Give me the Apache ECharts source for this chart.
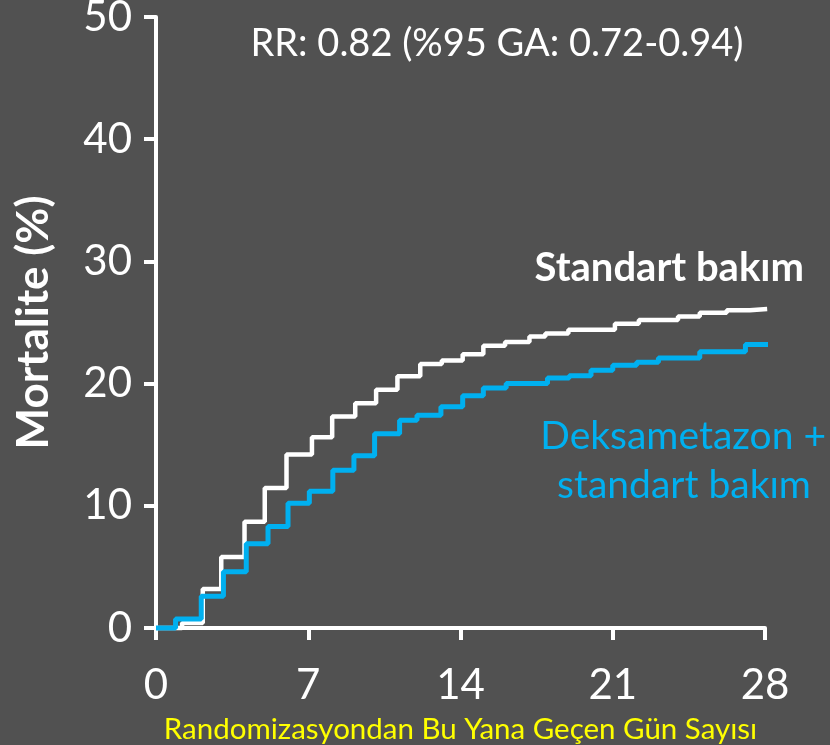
<!DOCTYPE html>
<html>
<head>
<meta charset="utf-8">
<script src="https://cdn.jsdelivr.net/npm/echarts@6/dist/echarts.min.js"></script>
<style>
html,body{margin:0;padding:0;background:#515151;}
#c{width:830px;height:745px;}
</style>
</head>
<body>
<div id="c"></div>
<script>
// Data (days since randomization, cumulative mortality %)
var stdDays = [0, 1.2, 2.15, 3.0, 4.07, 5.0, 6.0, 7.17, 8.1, 9.16, 10.12, 11.1, 12.15, 13.14, 14.1, 15.05, 16.05, 17.17, 17.9, 18.96, 21.1, 22.2, 24.0, 25.0, 26.24, 27.3, 28.1];
var stdVals = [0, 0.4, 3.2, 5.8, 8.7, 11.45, 14.2, 15.6, 17.3, 18.4, 19.5, 20.6, 21.6, 21.9, 22.4, 23.1, 23.4, 23.85, 24.1, 24.4, 24.9, 25.2, 25.5, 25.8, 26.0, 26.1, 26.1];
var dexDays = [0, 0.9, 2.08, 3.1, 4.15, 5.15, 6.07, 7.05, 8.13, 9.1, 10.05, 11.2, 12.0, 13.1, 14.1, 15.05, 16.1, 18.0, 19.0, 20.0, 21.0, 22.1, 23.1, 25.0, 27.1, 28.3];
var dexVals = [0, 0.74, 2.6, 4.6, 6.9, 8.3, 10.2, 11.2, 12.9, 14.1, 15.9, 17.0, 17.4, 18.1, 19.0, 19.65, 20.0, 20.45, 20.65, 21.1, 21.5, 21.75, 22.1, 22.6, 23.2, 23.2];
var xTicks = [0, 7, 14, 21, 28];
var yTicks = [0, 10, 20, 30, 40, 50];
var seriesNames = ['Standart bakım', 'Deksametazon + standart bakım'];
var xTitle = 'Randomizasyondan Bu Yana Geçen Gün Sayısı';
var yTitle = 'Mortalite (%)';
var rrText = 'RR: 0.82 (%95 GA: 0.72-0.94)';

function pairs(xs, ys){ return xs.map(function(x,i){ return [x, ys[i]]; }); }

var FONT = 'Lato';
var chart = echarts.init(document.getElementById('c'), null, {renderer:'canvas'});
chart.setOption({
  backgroundColor: '#515151',
  animation: false,
  grid: {left: 156, right: 65, top: 17, bottom: 117, containLabel: false, outerBoundsMode: 'none'},
  xAxis: {
    type: 'value', min: 0, max: 28, interval: 7,
    axisLine: {show: true, lineStyle: {color: '#ffffff', width: 4}},
    axisTick: {show: true, length: 12, lineStyle: {color: '#ffffff', width: 4}},
    splitLine: {show: false},
    axisLabel: {color: '#ffffff', fontSize: 42, fontFamily: FONT, margin: 36,
      formatter: function(v){ return xTicks.indexOf(v) >= 0 ? String(v) : ''; }},
    name: xTitle, nameLocation: 'middle', nameGap: 86,
    nameTextStyle: {color: '#ffff00', fontSize: 29.5, fontFamily: FONT}
  },
  yAxis: {
    type: 'value', min: 0, max: 50, interval: 10,
    axisLine: {show: true, lineStyle: {color: '#ffffff', width: 4}},
    axisTick: {show: true, length: 12, lineStyle: {color: '#ffffff', width: 4}},
    splitLine: {show: false},
    axisLabel: {color: '#ffffff', fontSize: 42, fontFamily: FONT, margin: 24,
      formatter: function(v){ return yTicks.indexOf(v) >= 0 ? String(v) : ''; }},
    name: yTitle, nameLocation: 'middle', nameGap: 100, nameRotate: 90,
    nameTextStyle: {color: '#ffffff', fontSize: 44, fontWeight: 'bold', fontFamily: FONT}
  },
  series: [
    {name: seriesNames[0], type: 'line', step: 'end', data: pairs(stdDays, stdVals),
     showSymbol: false, clip: false, lineStyle: {color: '#ffffff', width: 4.5}},
    {name: seriesNames[1], type: 'line', step: 'end', data: pairs(dexDays, dexVals),
     showSymbol: false, clip: false, lineStyle: {color: '#00b0f0', width: 5}}
  ],
  graphic: [
    {type: 'text', style: {text: rrText, x: 497, y: 44, align: 'center', verticalAlign: 'middle', fill: '#ffffff', font: '38px ' + FONT}},
    {type: 'text', style: {text: 'Standart bakım', x: 804, y: 268, align: 'right', verticalAlign: 'middle', fill: '#ffffff', font: 'bold 40px ' + FONT}},
    {type: 'text', style: {text: 'Deksametazon +', x: 826, y: 436, align: 'right', verticalAlign: 'middle', fill: '#00b0f0', font: '39px ' + FONT}},
    {type: 'text', style: {text: 'standart bakım', x: 684, y: 485, align: 'center', verticalAlign: 'middle', fill: '#00b0f0', font: '39px ' + FONT}}
  ]
});
</script>
</body>
</html>
